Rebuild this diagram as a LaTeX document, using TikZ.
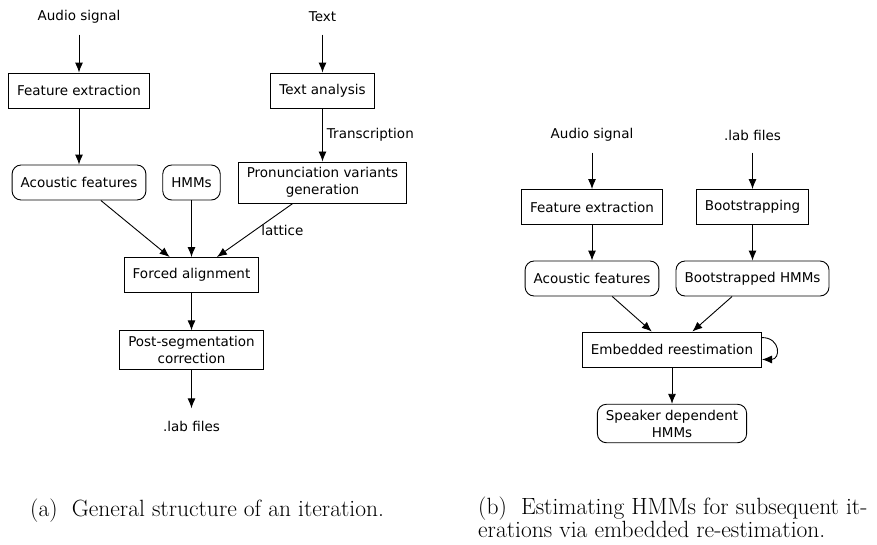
\documentclass[tikz,border=0pt]{standalone}
\usepackage{fontspec}
\newfontfamily\diagfont{DejaVu Sans}
\usetikzlibrary{arrows.meta}

\tikzset{
  flow/.style={-{Latex[length=10pt,width=8pt]}, line width=0.9pt},
  base/.style={font=\diagfont\fontsize{13.5}{17}\selectfont, align=center,
               inner xsep=8.5pt, inner ysep=5.5pt, minimum height=35pt},
  procbox/.style={base, draw, line width=0.9pt},
  databox/.style={base, draw, line width=0.9pt, rounded corners=9pt},
  io/.style={base},
  lbl/.style={font=\diagfont\fontsize{13.5}{17}\selectfont, inner sep=2pt},
  capt/.style={font=\fontsize{23.5}{21.5}\selectfont, inner sep=0pt, align=left}
}

\begin{document}
\begin{tikzpicture}[x=1pt, y=-1pt]
  \useasboundingbox (0,0) rectangle (877,544);

  % (a) one iteration of the segmentation
  \node[io]      (audioA) at (79,17)     {Audio signal};
  \node[io]      (textA)  at (322.5,17)  {Text};
  \node[procbox] (featA)  at (79,90.5)   {Feature extraction};
  \node[procbox] (tana)   at (322.5,90.5){Text analysis};
  \node[databox] (acA)    at (79,182.5)  {Acoustic features};
  \node[databox] (hmmA)   at (191.5,182.5){HMMs};
  \node[procbox] (pron)   at (322.5,182.5){Pronunciation variants\\generation};
  \node[procbox] (forced) at (191.5,275) {Forced alignment};
  \node[procbox] (post)   at (191.5,350) {Post-segmentation\\correction};
  \node[io]      (labA)   at (191.5,426) {.lab files};

  \draw[flow] (audioA) -- (featA);
  \draw[flow] (textA) -- (tana);
  \draw[flow] (featA) -- (acA);
  \draw[flow] (tana) -- node[lbl, right, xshift=2pt] {Transcription} (pron);
  \draw[flow] (acA) -- (forced);
  \draw[flow] (hmmA) -- (forced);
  \draw[flow] (pron) -- node[lbl, right, xshift=4pt] {lattice} (forced);
  \draw[flow] (forced) -- (post);
  \draw[flow] (post) -- (labA);

  % (b) embedded re-estimation of the models
  \node[io]      (audioB) at (592,135)   {Audio signal};
  \node[io]      (labB)   at (752.5,135) {.lab files};
  \node[procbox] (featB)  at (592,207)   {Feature extraction};
  \node[procbox] (boot)   at (752.5,207) {Bootstrapping};
  \node[databox] (acB)    at (592,278.5) {Acoustic features};
  \node[databox] (bhmm)   at (752.5,278.5){Bootstrapped HMMs};
  \node[procbox] (emb)    at (672,349.5) {Embedded reestimation};
  \node[databox] (sdhmm)  at (672,423.5) {Speaker dependent\\HMMs};

  \draw[flow] (audioB) -- (featB);
  \draw[flow] (labB) -- (boot);
  \draw[flow] (featB) -- (acB);
  \draw[flow] (boot) -- (bhmm);
  \draw[flow] (acB) -- (emb);
  \draw[flow] (bhmm) -- (emb);
  \draw[flow] ([yshift=-6pt]emb.north east) to[out=0, in=0, looseness=2.2]
              ([yshift=8pt]emb.south east);
  \draw[flow] (emb) -- (sdhmm);

  % captions
  \node[capt, anchor=base west] (captA) at (30,516)
    {(a)\ \ General structure of an iteration.};
  \node[capt, anchor=base west] (captB) at (478,537.5)
    {(b)\ \ Estimating HMMs for subsequent it-\\erations via embedded re-estimation.};
\end{tikzpicture}
\end{document}
